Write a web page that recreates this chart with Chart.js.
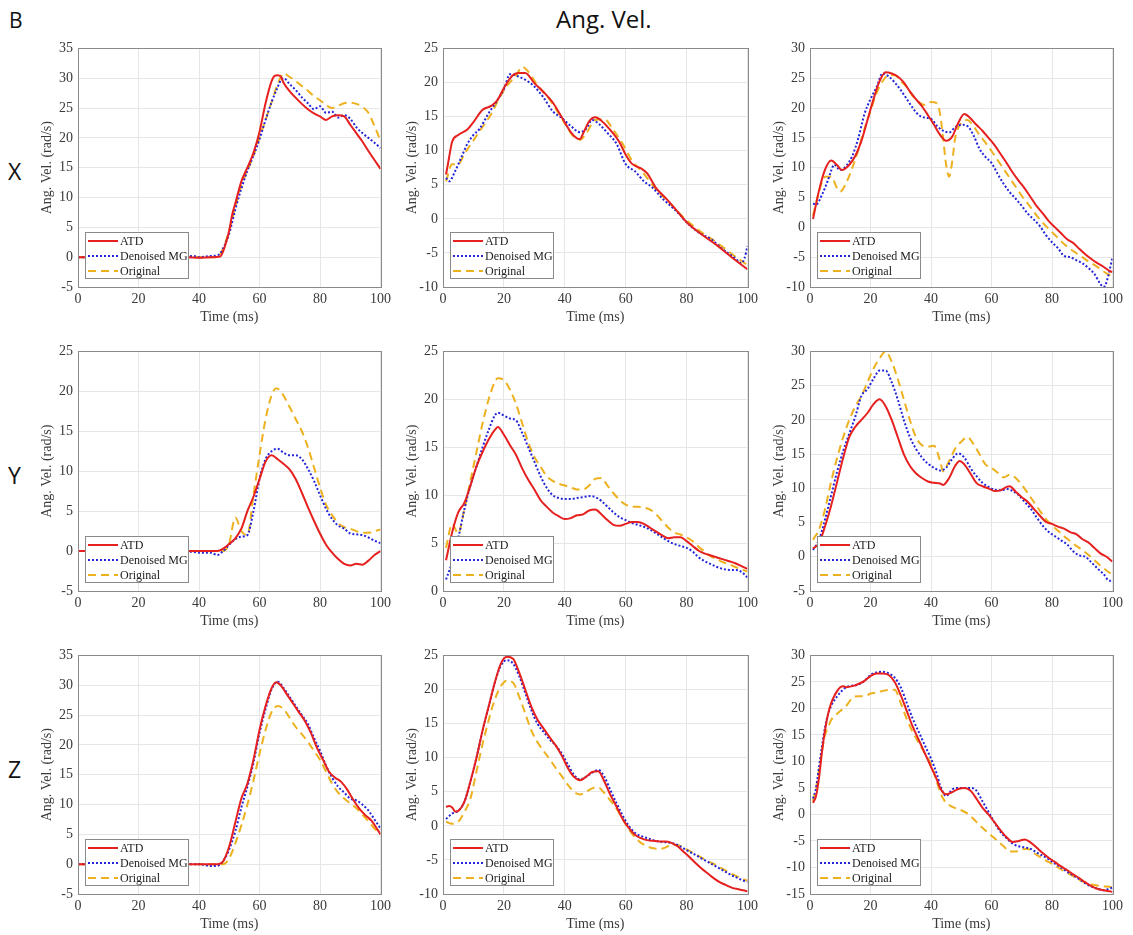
<!DOCTYPE html>
<html><head><meta charset="utf-8">
<script src="https://cdn.jsdelivr.net/npm/chart.js@4/dist/chart.umd.min.js"></script>
<style>
body{margin:0;background:#fff;width:1133px;height:935px;position:relative;overflow:hidden}
canvas{position:absolute}
.lbl{position:absolute;font-family:"Open Sans",Lato,sans-serif;color:#111;line-height:1}
</style></head><body>
<div class="lbl" style="left:9px;top:10px;font-size:21px">B</div>
<div class="lbl" style="left:556px;top:7px;font-size:24px">Ang. Vel.</div>
<div class="lbl" style="left:8px;top:160px;font-size:23px">X</div>
<div class="lbl" style="left:8px;top:464px;font-size:23px">Y</div>
<div class="lbl" style="left:8px;top:758px;font-size:23px">Z</div>
<script>
// ---------- data ----------
const seriesNames = ['ATD', 'Denoised MG', 'Original'];
const xTicks = [0, 20, 40, 60, 80, 100];
const yMin = [-5, -10, -10, -5, 0, -5, -5, -10, -15];
const yMax = [35, 25, 30, 25, 25, 30, 35, 25, 30];

// Row X
const xL_ATD = [[0,0],[10,0],[20,0],[30,0],[36,0],[40,-0.1],[44,0],[47,0.1],[48,1],[50,4.5],[51,7.2],[52,9],[54,12.7],[56,15],[58,17.5],[60,21],[62,25.8],[64,29.5],[65,30.4],[66,30.5],[67,30.3],[68,29.2],[70,27.8],[72,26.7],[74,25.7],[76,24.8],[78,24.1],[80,23.6],[82,23],[84,23.6],[86,23.8],[88,23.6],[90,22.2],[92,20.8],[94,19.4],[96,17.8],[98,16.3],[100,14.8]];
const xL_MG = [[0,0],[10,0],[20,0],[30,0],[36,0.1],[38,0.2],[40,0],[44,0.2],[46,0.3],[47,0.6],[48,1.5],[50,4],[52,8],[54,11.5],[56,14.5],[58,17],[60,19.8],[62,23],[64,26],[66,28.5],[67,29.6],[68,30],[70,29],[72,28],[74,26.8],[76,25.8],[78,24.8],[80,25.3],[82,24.2],[84,24.4],[86,23.4],[88,23.8],[90,23.2],[92,21.8],[94,20.8],[96,20],[98,19.2],[100,18.3]];
const xL_Orig = [[0,0],[10,0],[20,0],[30,0],[40,0],[46,0],[47,0.5],[48,1.5],[50,4.5],[52,8.5],[54,12],[56,14.5],[58,17],[60,20],[62,23],[64,26],[66,29],[68,30.8],[70,30.2],[72,29.5],[74,28.7],[76,27.9],[78,27],[80,26.3],[82,25.5],[84,25],[86,25.4],[88,25.8],[90,25.9],[92,25.7],[94,25.2],[96,24.2],[98,22],[100,19.5]];

const xM_ATD = [[1,6.5],[2,9],[3,11.3],[5,12.3],[8,13.1],[10,14.2],[13,16],[16,16.6],[18,17.5],[20,19.2],[23,21.1],[25,21.4],[27,21.4],[30,19.9],[33,18.6],[36,17.1],[39,14.9],[42,12.7],[44,11.8],[45,11.7],[46,12.5],[48,14.3],[50,14.9],[52,14.4],[55,13],[58,11.2],[60,9.4],[62,8.1],[65,7.4],[67,6.7],[70,4.5],[73,3.1],[76,1.6],[80,-0.5],[85,-2.3],[90,-3.9],[95,-5.7],[100,-7.4]];
const xM_MG = [[1,6],[2,5.5],[4,7],[6,9],[8,11],[10,12.3],[12,13.2],[15,15.5],[18,17.5],[20,19],[22,21.2],[24,21],[27,20.4],[30,19.4],[33,17.8],[36,15.8],[39,14.8],[42,13.6],[45,12.7],[47,13.2],[49,14.5],[51,14],[54,12.6],[57,11],[60,8],[63,7],[66,5.5],[69,4.5],[72,3],[75,1.8],[78,0.5],[80,-0.5],[84,-2],[88,-3],[92,-4.5],[96,-5.8],[98,-6.5],[99,-5.8],[100,-4]];
const xM_Orig = [[1,5.5],[3,8],[5,8],[7,9.5],[10,11.5],[13,13.5],[16,15.5],[18,17.3],[21,19.5],[24,21],[26,22.3],[28,21.6],[31,19.6],[35,17.5],[40,14],[43,12],[45,11.6],[47,12.5],[50,14.5],[53,14.6],[56,13],[59,11],[62,8.6],[66,6.6],[70,4.3],[74,2.5],[80,-0.2],[85,-2],[90,-3.5],[95,-5.2],[100,-6.8]];

const xR_ATD = [[1,1.4],[3,6.2],[5,9.7],[7,11.2],[9,10.4],[10.5,9.6],[13,10.5],[15,12],[17,14.5],[19,18],[21,21.5],[23,24.5],[25,26],[27,25.8],[29,25.3],[31,24.3],[33,22.8],[35,21.5],[37,20.3],[39,18.8],[41,17.2],[43,15.5],[45,14.5],[47,15.2],[49,17.5],[51,19],[53,18.3],[55,17.2],[57,16.2],[59,15],[61,13.8],[63,12.3],[65,10.8],[67,9.2],[69,7.8],[71,6.5],[73,5],[75,3.5],[77,2.3],[79,1],[81,0],[83,-1],[85,-2],[87,-2.6],[89,-3.6],[91,-4.5],[93,-5.3],[95,-6],[97,-6.6],[99,-7.3],[100,-7.5]];
const xR_MG = [[1,4],[2,3.8],[4,5.5],[6,8],[7,9.5],[8,10.5],[10,9.6],[12,10.3],[14,12],[16,15],[18,19],[20,21.5],[22,23.5],[24,25.8],[26,25.3],[28,24.3],[30,23],[32,21.5],[34,20],[36,18.8],[38,18.4],[40,18.2],[42,17],[44,16.2],[46,15.9],[48,16.8],[50,17.2],[52,17],[54,15.5],[56,13.2],[58,11.8],[60,10.8],[62,9],[64,7.3],[66,5.9],[68,4.8],[70,3.6],[72,2.3],[74,1.3],[76,0.2],[78,-1.3],[80,-2.5],[82,-3.5],[84,-4.8],[86,-5],[88,-5.5],[90,-6],[92,-6.8],[94,-7.8],[96,-9.5],[97,-10],[98,-9.2],[100,-5]];
const xR_Orig = [[1,2],[3,6],[5,8.5],[7,8.5],[9,6.5],[10,6],[12,7.5],[14,10],[16,13],[18,16.5],[20,19.5],[22,22.5],[24,24.5],[26,25.5],[28,25.5],[30,24.5],[32,23.5],[34,22],[36,21],[38,20.5],[40,21],[42,20.8],[43,19],[44,15],[45,10.5],[46,8.5],[47,11],[48,15],[50,17.5],[52,18],[54,17],[56,15.5],[58,14.2],[60,12.8],[62,11.3],[64,9.8],[66,8.3],[68,6.8],[70,5.3],[72,4],[74,2.6],[76,1.3],[78,0.2],[80,-0.8],[82,-1.8],[84,-2.8],[86,-3.6],[88,-4.3],[90,-5],[92,-5.7],[94,-6.3],[96,-7],[98,-7.7],[100,-8.2]];

// Row Y
const yL_ATD = [[0,0],[10,0],[20,0],[30,0],[40,0],[46,0],[48,0.3],[50,0.9],[52,1.6],[54,2.8],[56,5],[58,6.8],[60,9],[62,11.2],[64,12],[66,11.5],[68,10.9],[70,10.2],[72,9],[74,7.3],[76,5.5],[78,3.8],[80,2.2],[82,0.8],[84,-0.2],[86,-1],[88,-1.6],[90,-1.8],[92,-1.6],[94,-1.7],[96,-1.2],[98,-0.5],[100,0]];
const yL_MG = [[0,0],[10,0],[20,0],[30,0],[38,-0.1],[40,-0.2],[44,-0.2],[46,-0.5],[48,0],[50,0.8],[52,1.5],[54,1.8],[56,2],[58,5],[60,9],[62,11.5],[64,12.5],[66,12.8],[68,12.3],[70,12],[72,12],[74,11.5],[76,10.3],[78,8.8],[80,7],[82,5.3],[84,4],[86,3.2],[88,2.8],[90,2.2],[92,2.1],[94,2],[96,1.7],[98,1.3],[100,1]];
const yL_Orig = [[0,0],[10,0],[20,0],[30,0],[40,0],[48,0],[50,1],[52,4.2],[54,2.5],[56,2],[58,7],[60,12],[62,16.5],[64,19.5],[65.5,20.4],[67,20],[70,18],[72,16.5],[74,15],[76,13],[78,10.5],[80,8],[82,5.8],[84,4.5],[86,3.5],[88,3],[90,2.8],[92,2.5],[94,2.3],[96,2.3],[98,2.5],[100,2.7]];

const yM_ATD = [[1,3.2],[3,6.1],[5,8.2],[7,9.2],[9,11],[11,13],[13,14.5],[15,15.8],[17,16.8],[18,17.1],[20,16.3],[22,15.2],[24,14.2],[26,12.8],[28,11.6],[30,10.6],[32,9.5],[34,8.8],[36,8.2],[38,7.8],[40,7.5],[42,7.6],[44,7.9],[46,8],[48,8.4],[50,8.5],[52,8],[54,7.4],[56,6.9],[58,6.8],[60,7],[62,7.2],[64,7.2],[66,7],[68,6.6],[70,6.2],[72,5.8],[74,5.5],[76,5.6],[78,5.6],[80,5.2],[82,4.7],[84,4.2],[86,3.9],[88,3.7],[90,3.5],[92,3.3],[94,3.1],[96,2.9],[98,2.6],[100,2.3]];
const yM_MG = [[1,1.2],[3,3],[5,5.5],[7,8.5],[9,11],[11,13],[13,15],[15,16.8],[17,18.3],[18,18.6],[20,18.3],[22,18],[24,17.8],[26,16.5],[28,15],[30,13.5],[32,12],[34,10.8],[36,10],[38,9.7],[40,9.6],[42,9.6],[44,9.7],[46,9.8],[48,9.9],[50,9.8],[52,9.4],[54,8.8],[56,8.2],[58,7.7],[60,7.4],[62,7.1],[64,6.9],[66,6.7],[68,6.4],[70,6],[72,5.6],[74,5.2],[76,4.9],[78,4.7],[80,4.5],[82,4.1],[84,3.5],[86,3.1],[88,2.8],[90,2.5],[92,2.3],[94,2.2],[96,2.2],[98,2],[100,1.4]];
const yM_Orig = [[1,4.5],[3,7],[5,6],[7,8.5],[9,11.5],[11,14.5],[13,17.5],[15,20],[17,21.8],[18,22.2],[20,22],[22,21],[24,19.5],[26,17.5],[28,15.5],[30,14],[32,13],[34,12],[36,11.5],[38,11.2],[40,11],[42,10.8],[44,10.6],[46,10.6],[48,11],[50,11.7],[52,11.8],[54,11],[56,10.2],[58,9.5],[60,9],[62,8.8],[64,8.8],[66,8.7],[68,8.5],[70,8],[72,7.3],[74,6.6],[76,6.1],[78,5.9],[80,5.6],[82,5.2],[84,4.6],[86,4.1],[88,3.6],[90,3.3],[92,3],[94,2.8],[96,2.5],[98,2.3],[100,2]];

const yR_ATD = [[1,1.2],[3,2],[5,4.5],[7,7.5],[9,11],[11,14.5],[13,17.5],[15,19],[17,20],[19,21],[21,22.3],[23,23],[25,22],[27,20],[29,17.5],[31,15],[33,13.3],[35,12.2],[37,11.5],[39,11],[41,10.8],[43,10.7],[44,10.5],[46,11.5],[48,13.3],[49.5,14],[51,13.5],[53,12.2],[55,10.8],[57,10.3],[59,10],[61,9.6],[63,9.7],[65,10.2],[66,10.3],[68,9.5],[70,8.7],[72,8],[74,7],[76,6],[78,5.1],[80,4.8],[82,4.4],[84,4.1],[86,3.6],[88,3.3],[90,2.6],[92,2.1],[94,1.3],[96,0.5],[98,0],[100,-0.7]];
const yR_MG = [[1,1],[3,2.5],[5,5.5],[7,9],[9,12.5],[11,15.5],[13,18],[15,20.5],[17,23.5],[19,24.5],[21,26],[23,27.2],[25,27.2],[27,25.5],[29,23],[31,20],[33,17.5],[35,15.8],[37,14.5],[39,13.6],[41,13],[43,12.6],[45,13],[47,14.3],[49,15.1],[51,14.5],[53,13],[55,11.8],[57,10.8],[59,10.2],[61,9.8],[63,9.7],[65,9.9],[67,9.6],[69,9],[71,8],[73,7],[75,5.7],[77,4.5],[79,3.6],[81,3],[83,2.4],[85,1.8],[87,0.8],[89,0.2],[91,0],[93,-0.8],[95,-1.7],[97,-2.5],[99,-3.5],[100,-3.3]];
const yR_Orig = [[1,2.5],[3,4],[5,7],[7,11],[9,14.5],[11,17.5],[13,20],[15,22],[17,23.5],[19,25.5],[21,27.5],[23,29],[25,30],[27,28.5],[29,26],[31,23],[33,20],[35,17.5],[37,16.3],[39,16.1],[41,16.2],[43,14],[44,12.5],[46,14],[48,15.8],[50,16.8],[52,17.5],[54,16.5],[56,15],[58,13.5],[60,13],[62,12.3],[64,11.6],[66,12],[68,11.5],[70,10.5],[72,9.3],[74,8],[76,6.7],[78,5.5],[80,4.6],[82,3.8],[84,3],[86,2.3],[88,1.6],[90,1],[92,0.3],[94,-0.5],[96,-1.3],[98,-2],[100,-2.6]];

// Row Z
const zL_ATD = [[0,0],[10,0],[20,0],[30,0],[40,0],[46,0],[47,0.1],[48,0.5],[50,3],[52,7],[54,11],[56,13.5],[58,17.5],[60,22.5],[62,26.5],[64,29.5],[65.5,30.5],[67,30],[69,28.5],[71,27],[73,25.5],[75,24],[77,22],[79,19.5],[81,17.5],[83,15.5],[85,14.5],[87,13.8],[89,12.5],[91,10.8],[93,9.3],[95,8.2],[97,7.3],[99,5.8],[100,5]];
const zL_MG = [[0,0],[10,0],[20,0],[30,0],[40,0],[44,-0.3],[46,-0.3],[47,0],[48,0.5],[50,2.5],[52,5.5],[54,9.5],[56,13],[58,17],[60,22],[62,26],[64,29.3],[66,30.6],[68,29.5],[70,28],[72,26.5],[74,25],[76,23.5],[78,21.2],[80,19],[82,16.5],[84,14.5],[86,13],[88,12],[90,11],[92,10.7],[94,10],[96,9],[98,7.5],[100,6]];
const zL_Orig = [[0,0],[10,0],[20,0],[30,0],[40,0],[48,0],[50,1],[52,3.5],[54,6.5],[56,10],[58,14],[60,18.5],[62,22.5],[64,25.5],[66,26.5],[68,26],[70,24.5],[72,23],[74,21.8],[76,20.5],[78,19],[80,17.5],[82,15.5],[84,13.5],[86,12],[88,11],[90,10.2],[92,9.4],[94,8.3],[96,7.2],[98,6],[100,5]];

const zM_ATD = [[1,2.8],[2,2.9],[3,2.7],[4,2.1],[5,2.2],[7,3.5],[9,6.5],[11,10],[13,14],[15,17.5],[17,21],[19,23.8],[21,24.8],[23,24.5],[25,22.5],[27,20],[29,17.5],[31,15.6],[33,14.3],[35,13],[37,11.8],[39,10.3],[41,8.5],[43,7.2],[45,6.7],[47,7.2],[49,7.9],[51,8],[53,6.5],[55,4.5],[57,2.8],[59,1],[61,-0.3],[63,-1.3],[65,-1.8],[67,-2.1],[69,-2.2],[71,-2.3],[73,-2.3],[75,-2.5],[77,-3],[79,-3.8],[81,-4.6],[83,-5.5],[85,-6.3],[87,-7],[89,-7.7],[91,-8.3],[93,-8.7],[95,-9.1],[97,-9.3],[99,-9.5],[100,-9.6]];
const zM_MG = [[1,1],[3,1.8],[5,2.2],[7,3.5],[9,6.5],[11,10],[13,14],[15,17.5],[17,21],[19,23.5],[21,24.3],[23,23.8],[25,22],[27,19.5],[29,17],[31,15],[33,13.8],[35,12.7],[37,11.8],[39,10.6],[41,9],[43,7.5],[45,6.8],[47,7.2],[49,7.8],[51,8.2],[53,7.2],[55,5.2],[57,3.3],[59,1.5],[61,0],[63,-1],[65,-1.5],[67,-1.8],[69,-2.1],[71,-2.3],[73,-2.4],[75,-2.5],[77,-2.8],[79,-3.3],[81,-3.8],[83,-4.3],[85,-4.8],[87,-5.3],[89,-5.8],[91,-6.3],[93,-6.8],[95,-7.3],[97,-7.7],[99,-8.1],[100,-8.2]];
const zM_Orig = [[1,0.6],[3,0.3],[5,0.6],[7,2],[9,4],[11,8],[13,12],[15,15.5],[17,18.5],[19,20.5],[21,21.3],[23,21],[25,19],[27,16.5],[29,14],[31,12.3],[33,11],[35,9.8],[37,8.5],[39,7.3],[41,6],[43,5],[45,4.6],[47,5],[49,5.5],[51,5.6],[53,4.8],[55,3.7],[57,2.5],[59,1],[61,-0.5],[63,-1.7],[65,-2.5],[67,-3],[69,-3.3],[71,-3.4],[73,-3.2],[75,-2.8],[77,-2.8],[79,-3.2],[81,-3.7],[83,-4.2],[85,-4.7],[87,-5.2],[89,-5.6],[91,-6.1],[93,-6.6],[95,-7.1],[97,-7.5],[99,-7.9],[100,-8]];

const zR_ATD = [[1,2.2],[2,3.5],[3,7],[4,12],[5,16],[6,19],[7,21],[8,22.3],[9,23.3],[10,24],[11,24.2],[12,24],[14,24.2],[16,24.6],[18,25.2],[20,26.1],[22,26.6],[24,26.6],[26,26.3],[28,25],[30,22.5],[32,19.5],[34,16.5],[36,14],[38,11.5],[40,9],[42,6.5],[43,5],[45,3.8],[47,4.2],[49,4.8],[51,5],[53,4.5],[55,3],[57,1.3],[59,0],[61,-1.5],[63,-3],[65,-4.3],[67,-5.2],[69,-5],[71,-4.7],[73,-5.3],[75,-6.3],[77,-7.3],[79,-8.2],[81,-9],[83,-9.8],[85,-10.5],[87,-11.3],[89,-12],[91,-12.8],[93,-13.5],[95,-14],[97,-14.3],[99,-14.5],[100,-14.6]];
const zR_MG = [[1,3],[2,5],[3,9],[4,13],[5,16.5],[6,19],[7,20.5],[8,21.5],[9,22.3],[10,23],[11,23.6],[12,24],[14,24.3],[16,24.5],[18,25.2],[20,26.3],[22,26.8],[24,26.9],[26,26.6],[28,25.8],[30,24],[32,21],[34,18],[36,15.5],[38,13],[40,10.5],[42,7.5],[43,5.5],[45,3.5],[47,4.7],[49,5],[51,5],[53,5],[55,4.5],[57,2.5],[59,0.5],[61,-1.5],[63,-3.3],[65,-4.5],[67,-5.5],[69,-6],[71,-6.2],[73,-6.5],[75,-7.2],[77,-7.8],[79,-8.5],[81,-9.3],[83,-10],[85,-10.8],[87,-11.5],[89,-12.2],[91,-13],[93,-13.6],[95,-14],[97,-14.3],[99,-14],[100,-13.8]];
const zR_Orig = [[1,2.5],[2,5],[3,8.5],[4,12],[5,15],[6,16.5],[7,17.8],[8,18.5],[10,19.5],[12,20.5],[14,22],[16,22.3],[18,22.3],[20,22.8],[22,23],[24,23.3],[26,23.5],[28,23.5],[30,21],[32,18],[34,15.5],[36,13.5],[38,11.5],[40,9.5],[42,6],[44,3],[46,1.8],[48,1.2],[50,0.8],[52,0.2],[54,-0.8],[56,-2],[58,-3],[60,-4],[62,-5],[64,-6],[66,-7],[68,-7],[70,-6.5],[72,-6.5],[74,-7.3],[76,-8],[78,-8.7],[80,-9.3],[82,-10],[84,-10.7],[86,-11.3],[88,-12],[90,-12.6],[92,-13],[94,-13.3],[96,-13.5],[98,-13.6],[100,-13.7]];

const panelSeries = [
  [xL_ATD, xL_MG, xL_Orig], [xM_ATD, xM_MG, xM_Orig], [xR_ATD, xR_MG, xR_Orig],
  [yL_ATD, yL_MG, yL_Orig], [yM_ATD, yM_MG, yM_Orig], [yR_ATD, yR_MG, yR_Orig],
  [zL_ATD, zL_MG, zL_Orig], [zM_ATD, zM_MG, zM_Orig], [zR_ATD, zR_MG, zR_Orig]
];

// ---------- layout / style ----------
const colLeft = [78, 443, 810], colRight = [381, 748, 1113];
const rowTop = [45, 348, 652], rowBottom = [287, 591, 894];
const styles = [
  {color: '#e5201f', dash: [], width: 2},
  {color: '#2424d8', dash: [2, 2], width: 2},
  {color: '#EDB120', dash: [8, 5], width: 2}
];
const SERIF = '"Liberation Serif", "Times New Roman", serif';

const boxPlugin = {
  id: 'boxLegend',
  afterDatasetsDraw(chart) {
    const {ctx, chartArea: a} = chart;
    ctx.save();
    ctx.strokeStyle = '#8a8a8a'; ctx.lineWidth = 1;
    ctx.strokeRect(Math.round(a.left) + 0.5, Math.round(a.top) + 0.5, Math.round(a.right - a.left), Math.round(a.bottom - a.top));
    const x = Math.round(a.left) + 7, h = 46, w = 103, y = Math.round(a.bottom) - 9 - h;
    ctx.fillStyle = '#fff'; ctx.fillRect(x, y, w, h);
    ctx.strokeStyle = '#8a8a8a'; ctx.strokeRect(x + 0.5, y + 0.5, w, h);
    chart.data.datasets.forEach((ds, k) => {
      const ly = y + 9 + k * 15;
      ctx.beginPath(); ctx.setLineDash(ds.borderDash || []);
      ctx.strokeStyle = ds.borderColor; ctx.lineWidth = ds.borderWidth;
      ctx.moveTo(x + 3, ly); ctx.lineTo(x + 33, ly); ctx.stroke();
      ctx.setLineDash([]);
      ctx.fillStyle = '#222'; ctx.font = '12px ' + SERIF; ctx.textBaseline = 'middle'; ctx.textAlign = 'left';
      ctx.fillText(ds.label, x + 35, ly + 1);
    });
    ctx.restore();
  }
};

const YW = 44, XH = 40, PT = 10, PR = 14;
panelSeries.forEach((series, i) => {
  const r = Math.floor(i / 3), c = i % 3;
  const L = colLeft[c], R = colRight[c], T = rowTop[r], B = rowBottom[r];
  const w = (R - L) + YW + PR, h = (B - T) + PT + XH;
  const cv = document.createElement('canvas');
  cv.width = w; cv.height = h;
  cv.style.left = (L - YW) + 'px'; cv.style.top = (T - PT) + 'px';
  cv.style.width = w + 'px'; cv.style.height = h + 'px';
  document.body.appendChild(cv);
  new Chart(cv, {
    type: 'line',
    data: {
      datasets: series.map((s, k) => ({
        label: seriesNames[k],
        data: s.map(p => ({x: p[0], y: p[1]})),
        borderColor: styles[k].color,
        borderDash: styles[k].dash,
        borderWidth: styles[k].width,
        pointRadius: 0,
        fill: false,
        cubicInterpolationMode: 'monotone'
      }))
    },
    options: {
      responsive: false, animation: false,
      layout: {padding: {left: 0, top: PT, right: PR, bottom: 0}, autoPadding: false},
      plugins: {legend: {display: false}, tooltip: {enabled: false}},
      scales: {
        x: {
          type: 'linear', min: 0, max: 100,
          afterBuildTicks: s => { s.ticks = xTicks.map(v => ({value: v})); },
          afterFit: s => { s.height = XH; },
          grid: {color: '#e6e6e6', drawTicks: false},
          border: {display: false},
          ticks: {padding: 4, color: '#3a3a3a', font: {family: SERIF, size: 14}, maxRotation: 0},
          title: {display: true, text: 'Time (ms)', color: '#3a3a3a', font: {family: SERIF, size: 14}, padding: {top: 0, bottom: 1}}
        },
        y: {
          type: 'linear', min: yMin[i], max: yMax[i],
          ticks: {stepSize: 5, padding: 5, color: '#3a3a3a', font: {family: SERIF, size: 14}},
          afterFit: s => { s.width = YW; },
          grid: {color: '#e6e6e6', drawTicks: false},
          border: {display: false},
          title: {display: true, text: 'Ang. Vel. (rad/s)', color: '#3a3a3a', font: {family: SERIF, size: 14}, padding: {top: 5, bottom: 0}}
        }
      }
    },
    plugins: [boxPlugin]
  });
});
</script>
</body></html>
